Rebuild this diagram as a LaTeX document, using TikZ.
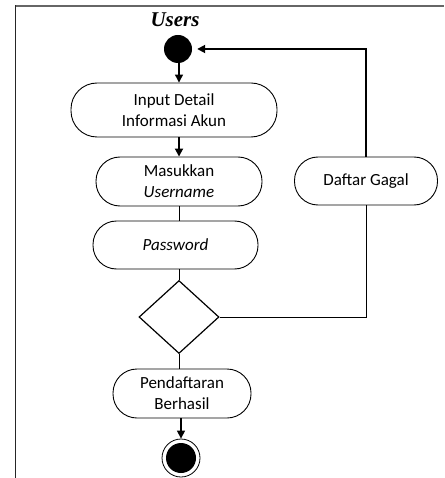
\documentclass[tikz,border=0pt]{standalone}
\usepackage{fontspec}
\setmainfont{Carlito}
\newfontfamily\timesfont{Liberation Serif}
\usetikzlibrary{shapes.geometric,arrows.meta}
\tikzset{
  act/.style={draw, rectangle, line width=0.9pt, align=center,
    inner sep=0pt, font=\fontsize{17}{21}\selectfont},
  conn/.style={line width=1pt},
  thickarrow/.style={line width=1.8pt, -{Triangle[width=8pt,length=8pt]}},
  thinarrow/.style={line width=1.2pt, -{Triangle[width=8pt,length=8pt]}},
}
\begin{document}
\begin{tikzpicture}[x=1pt,y=-1pt]
\useasboundingbox (0,0) rectangle (444,478);
% frame
\draw[line width=2pt, gray!80!black] (15,6.5) -- (444,6.5);
\draw[line width=1.5pt, black!85] (15.5,5.5) -- (15.5,478);
% nodes
\node (users) at (175,20) {\timesfont\fontsize{21}{24}\selectfont\bfseries\itshape Users};
\node[circle, fill=black, minimum size=28pt, inner sep=0pt] (start) at (178,49) {};
\node[act, minimum width=206pt, minimum height=54pt, rounded corners=26pt] (input) at (174,110) {Input Detail\\Informasi Akun};
\node[act, minimum width=166pt, minimum height=49pt, rounded corners=24pt] (masuk) at (179,181.5) {Masukkan\\\textit{Username}};
\node[act, minimum width=165pt, minimum height=48pt, rounded corners=23.5pt] (pass) at (175.5,245) {\textit{Password}};
\node[draw, diamond, line width=1.2pt, minimum width=80pt, minimum height=73pt, inner sep=0pt] (dia) at (179,317) {};
\node[act, minimum width=143pt, minimum height=48pt, rounded corners=23.5pt] (daftar) at (366,181) {Daftar Gagal};
\node[act, minimum width=138pt, minimum height=49pt, rounded corners=24pt] (hasil) at (182,393.5) {Pendaftaran\\Berhasil};
\node[circle, draw, line width=0.8pt, minimum size=38pt, inner sep=0pt] (end) at (181,458) {};
\node[circle, fill=black, minimum size=30pt, inner sep=0pt] (endin) at (end.center) {};
\coordinate (back) at (366,49);
% connectors
\draw[thinarrow] (start.south -| 179,0) -- (input.north -| 179,0);
\draw[thickarrow] (masuk.north |- input.south) -- (masuk.north);
\draw[conn] (masuk.south) -- (masuk.south |- pass.north);
\draw[conn] (dia.north |- pass.south) -- (dia.north);
\draw[conn] (dia.east) -| (daftar.south);
\draw[thickarrow, shorten >=5pt] (daftar.north) -- (back) -- (start.east);
\draw[conn] (dia.south) -- (dia.south |- hasil.north);
\draw[thinarrow] (end.north |- hasil.south) -- (end.north);
\end{tikzpicture}
\end{document}
